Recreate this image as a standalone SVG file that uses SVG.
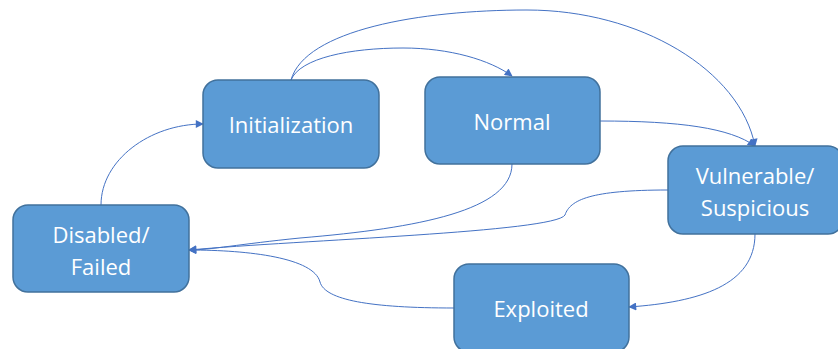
<svg xmlns="http://www.w3.org/2000/svg" width="838" height="349" viewBox="0 0 838 349">
  <defs>
    <marker id="arrow" viewBox="0 0 10 10" refX="9" refY="5" markerWidth="10" markerHeight="8" markerUnits="userSpaceOnUse" orient="auto">
      <path d="M0,0 L10,5 L0,10 z" fill="#4472C4"/>
    </marker>
    <style>
      .node rect { fill: #5B9BD5; stroke: #41719C; stroke-width: 1.5; }
      .node text { fill: #FFFFFF; font-family: "Open Sans", "Liberation Sans", sans-serif; font-size: 22px; text-anchor: middle; dominant-baseline: central; }
      #connectors path { fill: none; stroke: #4472C4; stroke-width: 1; marker-end: url(#arrow); }
    </style>
  </defs>
  <rect width="838" height="349" fill="#FFFFFF"/>

  <g id="connectors">
    <!-- Disabled/Failed -> Initialization -->
    <path d="M101,205 C101,160 150,124 203,124"/>
    <!-- Initialization -> Normal -->
    <path d="M291,80 C300,58 350,48 403,48 C450,48 490,60 512,76"/>
    <!-- Initialization -> Vulnerable/Suspicious -->
    <path d="M291,80 C305,30 420,10 527,10 C640,10 740,70 755,146"/>
    <!-- Normal -> Vulnerable/Suspicious -->
    <path d="M600,121 C680,121 730,128 755,146"/>
    <!-- Normal -> Disabled/Failed -->
    <path d="M512,164 C512,210 420,228 300,238 C240,244 210,250 189,250"/>
    <!-- Vulnerable/Suspicious -> Disabled/Failed -->
    <path d="M668,190 C590,190 570,200 565,215 C555,232 300,240 189,250"/>
    <!-- Vulnerable/Suspicious -> Exploited -->
    <path d="M755,234 C755,285 700,302 629,307"/>
    <!-- Exploited -> Disabled/Failed -->
    <path d="M454,308 C370,308 325,300 320,282 C314,258 250,250 189,250"/>
  </g>

  <g id="node-initialization" class="node">
    <rect x="203" y="80" width="176" height="88" rx="15"/>
    <text x="291" y="124">Initialization</text>
  </g>
  <g id="node-normal" class="node">
    <rect x="425" y="77" width="175" height="87" rx="15"/>
    <text x="512" y="121">Normal</text>
  </g>
  <g id="node-vulnerable" class="node">
    <rect x="668" y="146" width="175" height="88" rx="15"/>
    <text x="755" y="175">Vulnerable/</text>
    <text x="755" y="207">Suspicious</text>
  </g>
  <g id="node-disabled" class="node">
    <rect x="13" y="205" width="176" height="87" rx="15"/>
    <text x="101" y="234">Disabled/</text>
    <text x="101" y="266">Failed</text>
  </g>
  <g id="node-exploited" class="node">
    <rect x="454" y="264" width="175" height="88" rx="15"/>
    <text x="541" y="308">Exploited</text>
  </g>
</svg>
